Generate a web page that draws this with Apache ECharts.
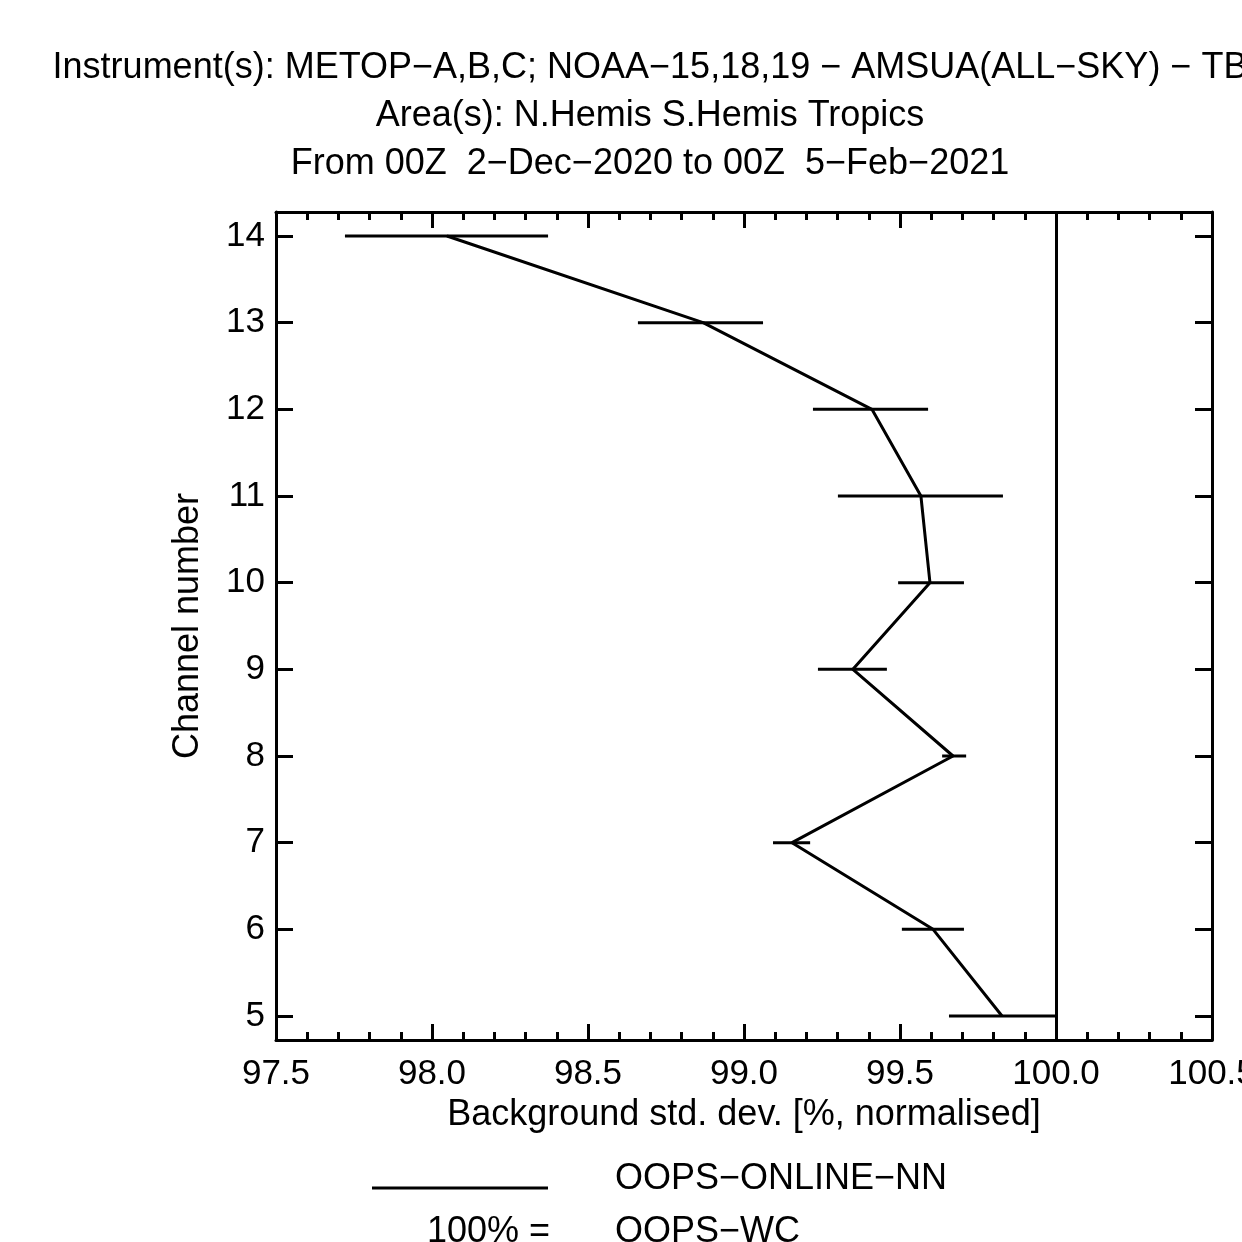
<!DOCTYPE html>
<html><head><meta charset="utf-8">
<script src="https://cdn.jsdelivr.net/npm/echarts@6/dist/echarts.min.js"></script>
<style>html,body{margin:0;padding:0;background:#fff}#c{width:1242px;height:1242px}</style>
</head><body><div id="c"></div>
<script>
var channels = [14, 13, 12, 11, 10, 9, 8, 7, 6, 5];
var meanVals = [98.048, 98.869, 99.410, 99.567, 99.596, 99.349, 99.670, 99.154, 99.606, 99.827];
var lowVals  = [97.721, 98.660, 99.221, 99.301, 99.494, 99.237, 99.635, 99.093, 99.506, 99.657];
var highVals = [98.372, 99.061, 99.590, 99.830, 99.705, 99.458, 99.712, 99.212, 99.705, 100.000];
var channelTicks = [5, 6, 7, 8, 9, 10, 11, 12, 13, 14];
var titleLines = [
  "Instrument(s): METOP\u2212A,B,C; NOAA\u221215,18,19 \u2212 AMSUA(ALL\u2212SKY) \u2212 TB",
  "Area(s): N.Hemis S.Hemis Tropics",
  "From 00Z  2\u2212Dec\u22122020 to 00Z  5\u2212Feb\u22122021"
];
var legendTexts = ["OOPS\u2212ONLINE\u2212NN", "100% =", "OOPS\u2212WC"];

var FONT = "'Liberation Sans', Arial, Helvetica, sans-serif";
var FS = 36;
var chart = echarts.init(document.getElementById('c'), null, {renderer: 'canvas'});

var lineData = channels.map(function(c, i){ return [meanVals[i], c]; });
var errData = channels.map(function(c, i){ return [lowVals[i], highVals[i], c]; });

var axisLine = {show: true, lineStyle: {color: '#000', width: 3}};
var xBase = {
  type: 'value', min: 97.5, max: 100.5, interval: 0.5,
  axisLine: axisLine,
  axisTick: {show: true, inside: true, length: 16, lineStyle: {color: '#000', width: 3}},
  minorTick: {show: true, splitNumber: 5, length: 8, lineStyle: {color: '#000', width: 3}},
  splitLine: {show: false}, minorSplitLine: {show: false}
};
var yBase = {
  type: 'value', min: 4.723, max: 14.277,
  axisLine: axisLine,
  axisTick: {show: true, inside: true, length: 17, customValues: channelTicks, lineStyle: {color: '#000', width: 3}},
  splitLine: {show: false}
};

var option = {
  animation: false,
  backgroundColor: '#fff',
  grid: {left: 276, right: 30, top: 212, bottom: 202, containLabel: false, outerBoundsMode: 'none'},
  xAxis: [
    Object.assign({}, xBase, {
      position: 'bottom',
      name: 'Background std. dev. [%, normalised]',
      nameLocation: 'middle', nameGap: 55,
      nameTextStyle: {fontFamily: FONT, fontSize: FS, color: '#000'},
      axisLabel: {show: true, fontFamily: FONT, fontSize: 35, color: '#000', margin: 17,
        formatter: function(v){ return v.toFixed(1); }, showMaxLabel: true, showMinLabel: true, hideOverlap: false}
    }),
    Object.assign({}, xBase, {position: 'top', axisLabel: {show: false}})
  ],
  yAxis: [
    Object.assign({}, yBase, {
      position: 'left',
      name: 'Channel number', nameLocation: 'middle', nameGap: 70, nameRotate: 90,
      nameTextStyle: {fontFamily: FONT, fontSize: FS, color: '#000'},
      axisLabel: {show: true, fontFamily: FONT, fontSize: 35, color: '#000', margin: 11,
        customValues: channelTicks, formatter: function(v){ return String(Math.round(v)); }}
    }),
    Object.assign({}, yBase, {position: 'right', axisLabel: {show: false}})
  ],
  series: [
    {
      type: 'custom', xAxisIndex: 0, yAxisIndex: 0,
      data: errData,
      encode: {x: [0, 1], y: 2},
      renderItem: function(params, api){
        var p1 = api.coord([api.value(0), api.value(2)]);
        var p2 = api.coord([api.value(1), api.value(2)]);
        return {type: 'line', shape: {x1: p1[0], y1: p1[1], x2: p2[0], y2: p2[1]},
          style: {stroke: '#000', lineWidth: 3}};
      },
      z: 3
    },
    {
      type: 'line', xAxisIndex: 0, yAxisIndex: 0,
      data: lineData, showSymbol: false, symbol: 'none',
      lineStyle: {color: '#000', width: 3},
      z: 4,
      markLine: {
        silent: true, symbol: ['none', 'none'], label: {show: false},
        lineStyle: {color: '#000', width: 3, type: 'solid'},
        data: [{xAxis: 100}]
      }
    }
  ],
  graphic: [
    {type: 'text', x: 650, y: 68, style: {text: titleLines[0], font: FS + 'px ' + FONT, fill: '#000', textAlign: 'center', textVerticalAlign: 'middle'}},
    {type: 'text', x: 650, y: 116, style: {text: titleLines[1], font: FS + 'px ' + FONT, fill: '#000', textAlign: 'center', textVerticalAlign: 'middle'}},
    {type: 'text', x: 650, y: 164, style: {text: titleLines[2], font: FS + 'px ' + FONT, fill: '#000', textAlign: 'center', textVerticalAlign: 'middle'}},
    {type: 'line', shape: {x1: 372, y1: 1188, x2: 548, y2: 1188}, style: {stroke: '#000', lineWidth: 3}},
    {type: 'text', x: 615, y: 1179, style: {text: legendTexts[0], font: FS + 'px ' + FONT, fill: '#000', textAlign: 'left', textVerticalAlign: 'middle'}},
    {type: 'text', x: 550, y: 1232, style: {text: legendTexts[1], font: FS + 'px ' + FONT, fill: '#000', textAlign: 'right', textVerticalAlign: 'middle'}},
    {type: 'text', x: 615, y: 1232, style: {text: legendTexts[2], font: FS + 'px ' + FONT, fill: '#000', textAlign: 'left', textVerticalAlign: 'middle'}}
  ]
};
chart.setOption(option);
</script>
</body></html>
